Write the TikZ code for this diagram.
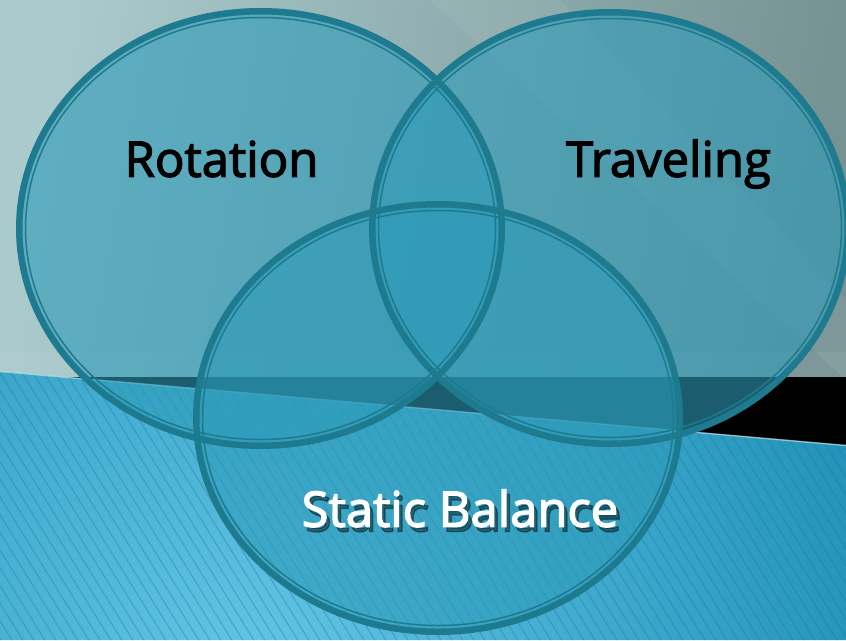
\documentclass[tikz,border=0pt]{standalone}
\usepackage{fontspec}
\newfontfamily\labelfont[FakeBold=2.6]{Open Sans}
\usetikzlibrary{calc}
\definecolor{bgtopL}{RGB}{170,202,204}
\definecolor{bgtopR}{RGB}{118,146,147}
\definecolor{blueIn}{RGB}{100,198,230}
\definecolor{blueOut}{RGB}{28,142,182}
\definecolor{stripe}{RGB}{30,120,155}
\definecolor{rimline}{RGB}{30,122,142}
\definecolor{setfill}{RGB}{45,155,185}
\definecolor{edgelight}{RGB}{175,220,232}
\tikzset{
  setarea/.style={fill=setfill, fill opacity=0.6},
  rimthick/.style={draw=rimline, line width=6.5pt},
  rimthin/.style={draw=rimline, line width=1.5pt},
  darklabel/.style={font=\labelfont\fontsize{49}{58}\selectfont, text=black, anchor=base, inner sep=0pt},
  lightlabel/.style={font=\labelfont\fontsize{49}{58}\selectfont, text=white, anchor=base, inner sep=0pt},
}
\begin{document}
\begin{tikzpicture}[x=1pt,y=-1pt]
\useasboundingbox (0,0) rectangle (846,640);
\clip (0,0) rectangle (846,640);
% top background
\shade[left color=bgtopL, right color=bgtopR, shading angle=80] (0,0) rectangle (846,400);
\fill[white, opacity=0.06] (430,0) -- (560,0) -- (846,300) -- (846,380) -- cycle;
\fill[white, opacity=0.06] (0,352) rectangle (846,377);
% black wedge
\fill[black] (63,377) -- (846,377) -- (846,445.5) -- cycle;
% blue region
\begin{scope}
  \clip (0,371.5) -- (846,445.5) -- (846,640) -- (0,640) -- cycle;
  \shade[inner color=blueIn, outer color=blueOut] (250,680) circle (700pt);
  \foreach \s in {-250,-239,...,850} {
    \draw[stripe, opacity=0.4, line width=1pt] (\s,360) -- ++(180,290);
  }
\end{scope}
\draw[edgelight, opacity=0.7, line width=1.5pt] (0,371.5) -- (846,445.5);
% set centres
\coordinate (c1) at (260.5,228.5);
\coordinate (c2) at (610,228);
\coordinate (c3) at (438,418);
% fills
\fill[setarea] (c1) ellipse [x radius=241.25pt, y radius=217.25pt];
\fill[setarea] (c2) ellipse [x radius=237.75pt, y radius=215.75pt];
\fill[setarea] (c3) ellipse [x radius=241.75pt, y radius=213.75pt];
% rims
\draw[rimthick] (c1) ellipse [x radius=241.25pt, y radius=217.25pt];
\draw[rimthin]  (c1) ellipse [x radius=235pt, y radius=211pt];
\draw[rimthick] (c2) ellipse [x radius=237.75pt, y radius=215.75pt];
\draw[rimthin]  (c2) ellipse [x radius=231.5pt, y radius=209.5pt];
\draw[rimthick] (c3) ellipse [x radius=241.75pt, y radius=213.75pt];
\draw[rimthin]  (c3) ellipse [x radius=235.5pt, y radius=207.5pt];
% labels
\node[darklabel] (rot) at (221.5,176.7) {Rotation};
\node[darklabel] (trav) at (668.5,176.7) {Traveling};
\node[lightlabel, text=black, opacity=0.4] (statsh) at (463.5,531.5) {Static Balance};
\node[lightlabel] (stat) at (460,526.7) {Static Balance};
\end{tikzpicture}
\end{document}
